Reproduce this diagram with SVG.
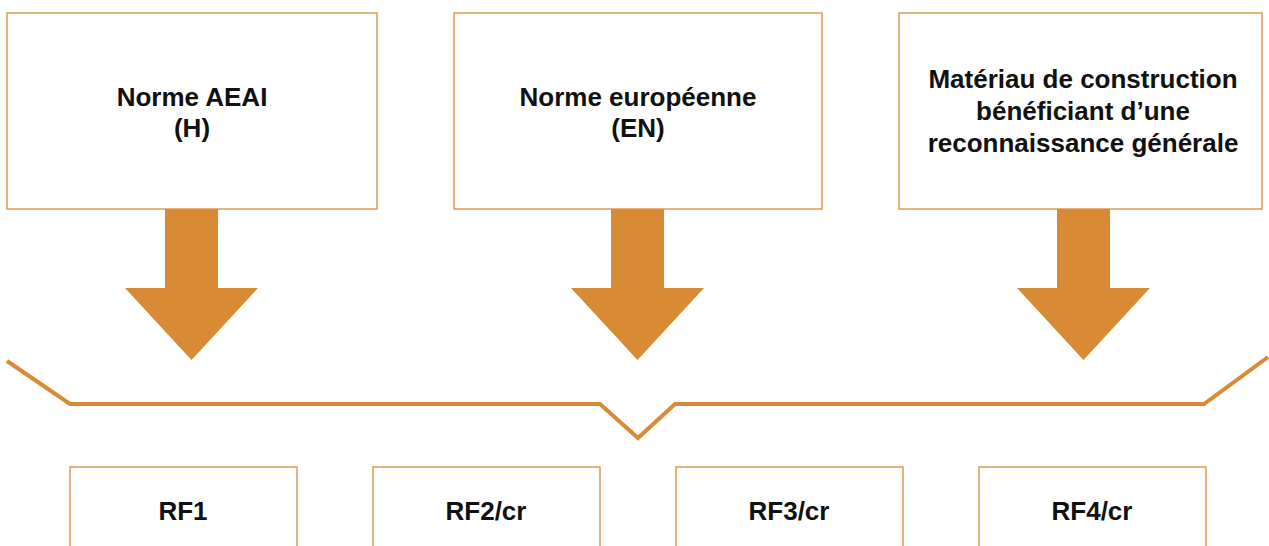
<svg xmlns="http://www.w3.org/2000/svg" width="1269" height="546" viewBox="0 0 1269 546">
<style>
.box{fill:#fff;stroke:#E09A50;stroke-width:1.5}
.arr{fill:#D88A35}
.t{font-family:"Liberation Sans",Arial,sans-serif;font-weight:bold;font-size:26px;fill:#111;text-anchor:middle}
.brace{fill:none;stroke:#D88A35;stroke-width:4;stroke-linejoin:miter}
</style>
<rect width="1269" height="546" fill="#fff"/>
<g id="node-aeai">
<rect class="box" x="7" y="13" width="370" height="196"/>
<text class="t" x="192" y="106">Norme AEAI</text>
<text class="t" x="192" y="137">(H)</text>
</g>
<g id="node-en">
<rect class="box" x="454" y="13" width="368" height="196"/>
<text class="t" x="638" y="106">Norme européenne</text>
<text class="t" x="638" y="137">(EN)</text>
</g>
<g id="node-materiau">
<rect class="box" x="899" y="13" width="363" height="196"/>
<text class="t" x="1083" y="88">Matériau de construction</text>
<text class="t" x="1083" y="120">bénéficiant d’une</text>
<text class="t" x="1083" y="152">reconnaissance générale</text>
</g>
<g id="node-rf1">
<rect class="box" x="70" y="467" width="227" height="90"/>
<text class="t" x="183" y="520">RF1</text>
</g>
<g id="node-rf2">
<rect class="box" x="373" y="467" width="227" height="90"/>
<text class="t" x="486" y="520">RF2/cr</text>
</g>
<g id="node-rf3">
<rect class="box" x="676" y="467" width="227" height="90"/>
<text class="t" x="789" y="520">RF3/cr</text>
</g>
<g id="node-rf4">
<rect class="box" x="979" y="467" width="227" height="90"/>
<text class="t" x="1092" y="520">RF4/cr</text>
</g>
<g id="connectors">
<path class="arr" d="M165,209 H218 V288 H258 L191.5,360 L125,288 H165 Z"/>
<path class="arr" d="M611,209 H664 V288 H704 L637.5,360 L571,288 H611 Z"/>
<path class="arr" d="M1057,209 H1110 V288 H1150 L1083.5,360 L1017,288 H1057 Z"/>
<polyline class="brace" points="7,361 70,404 600,404 638,438 675,404 1204,404 1268,357"/>
</g>
</svg>
